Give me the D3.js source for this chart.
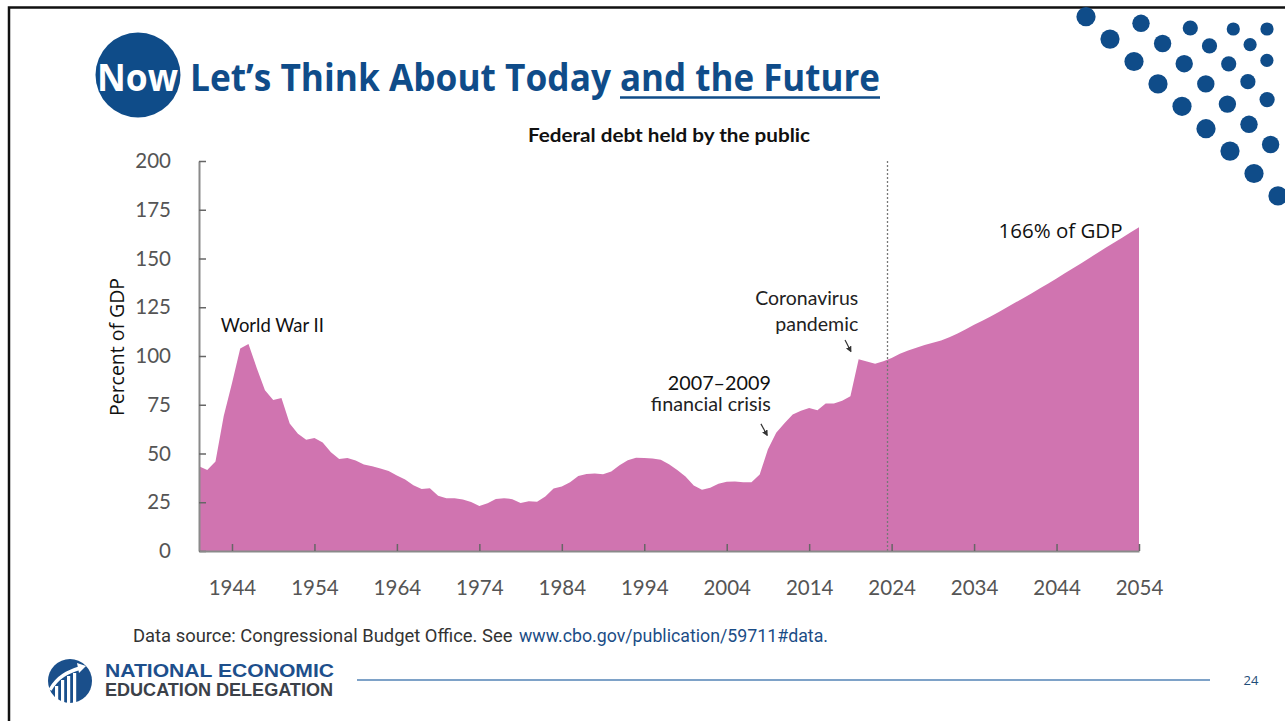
<!DOCTYPE html>
<html>
<head>
<meta charset="utf-8">
<script src="https://cdn.jsdelivr.net/npm/d3@7/dist/d3.min.js"></script>
<style>
  html, body { margin: 0; padding: 0; background: #fff; }
  svg { display: block; }
</style>
</head>
<body>
<svg id="slide" width="1285" height="721"></svg>
<script>
// Federal debt held by the public, percent of GDP (fiscal years)
const histYears = d3.range(1940, 2024);
const histDebt = [
  43.5, 41.5, 45.9, 69.2, 86.0, 103.9, 106.1, 93.9, 82.4, 77.4,   // 1940-1949
  78.5, 65.4, 60.1, 57.1, 57.9, 55.7, 50.6, 47.2, 47.7, 46.4,     // 1950-1959
  44.3, 43.5, 42.3, 41.0, 38.7, 36.7, 33.7, 31.8, 32.2, 28.3,     // 1960-1969
  27.0, 27.1, 26.4, 25.1, 23.1, 24.5, 26.7, 27.1, 26.6, 24.6,     // 1970-1979
  25.5, 25.2, 27.9, 32.1, 33.1, 35.3, 38.4, 39.5, 39.8, 39.3,     // 1980-1989
  40.8, 44.0, 46.6, 47.8, 47.7, 47.5, 46.8, 44.5, 41.6, 38.2,     // 1990-1999
  33.6, 31.4, 32.5, 34.5, 35.5, 35.6, 35.3, 35.2, 39.2, 52.2,     // 2000-2009
  60.6, 65.5, 70.0, 71.9, 73.3, 72.2, 75.6, 75.7, 77.1, 79.4,     // 2010-2019
  98.3, 97.2, 96.0, 97.3                                          // 2020-2023
];
const projYears = d3.range(2024, 2055);
const projDebt = [
  99.0, 101.2, 102.8, 104.2, 105.6, 106.8, 108.0, 109.6, 111.5, 113.7, // 2024-2033
  116.0, 118.1, 120.3, 122.6, 125.0, 127.4, 129.8, 132.2, 134.7, 137.2, // 2034-2043
  139.8, 142.4, 145.0, 147.6, 150.3, 153.0, 155.6, 158.2, 160.8, 163.4, // 2044-2053
  166.0                                                                  // 2054
];
const yTicks = [0, 25, 50, 75, 100, 125, 150, 175, 200];
const xTicks = [1944, 1954, 1964, 1974, 1984, 1994, 2004, 2014, 2024, 2034, 2044, 2054];
const projectionStart = 2023.5;

const series = histYears.map((yr, i) => ({ year: yr, value: histDebt[i] }))
  .concat(projYears.map((yr, i) => ({ year: yr, value: projDebt[i] })));

const BLUE = "#0f4c89";
const PINK = "#d074b0";
const svg = d3.select("#slide");

function label(sel, x, y, str, o) {
  const t = sel.append("text")
    .attr("x", x).attr("y", y)
    .attr("font-family", o.family || "Lato, 'Open Sans', sans-serif")
    .attr("font-size", o.size || 18)
    .attr("font-weight", o.weight || 400)
    .attr("fill", o.fill || "#111")
    .attr("text-anchor", o.anchor || "start")
    .text(str);
  if (o.len) t.attr("textLength", o.len).attr("lengthAdjust", "spacingAndGlyphs");
  return t;
}

// ---- slide frame ----
svg.append("path").attr("d", "M9,721 V7.5 H1285")
  .attr("fill", "none").attr("stroke", "#111").attr("stroke-width", 2.5);

// ---- decorative dot pattern, top right ----
const dotDiagonals = [
  { x0: 1086, y0: 16.7, dx: 24.0, dy: 22.4, n: 9, r: 9.6 },
  { x0: 1141, y0: 23.3, dx: 21.6, dy: 20.2, n: 7, r: 8.7 },
  { x0: 1190.3, y0: 28, dx: 19.2, dy: 17.9, n: 5, r: 7.6 },
  { x0: 1233.3, y0: 29, dx: 16.8, dy: 15.7, n: 3, r: 6.6 },
  { x0: 1267, y0: 29, dx: 0, dy: 0, n: 1, r: 6.6 }
];
const dots = [];
dotDiagonals.forEach(d => d3.range(d.n).forEach(i =>
  dots.push({ cx: d.x0 + i * d.dx, cy: d.y0 + i * d.dy, r: d.r })));
svg.append("g").selectAll("circle").data(dots).join("circle")
  .attr("cx", d => d.cx).attr("cy", d => d.cy).attr("r", d => d.r)
  .attr("fill", BLUE);

// ---- slide heading ----
svg.append("circle").attr("cx", 138).attr("cy", 75).attr("r", 42.5).attr("fill", BLUE);
label(svg, 97, 91, "Now", { size: 38, weight: 700, fill: "#fff", family: "'Open Sans', sans-serif", len: 81 });
label(svg, 190, 91, "Let\u2019s Think About Today", { size: 38, weight: 700, fill: BLUE, family: "'Open Sans', sans-serif", len: 421 });
label(svg, 620, 91, "and the Future", { size: 38, weight: 700, fill: BLUE, family: "'Open Sans', sans-serif", len: 260 });
svg.append("line").attr("x1", 620).attr("x2", 880).attr("y1", 97.5).attr("y2", 97.5)
  .attr("stroke", BLUE).attr("stroke-width", 2.5);

// ---- chart ----
const x = d3.scaleLinear().domain([1940, 2054]).range([199, 1139]);
const y = d3.scaleLinear().domain([0, 200]).range([551, 161]);

label(svg, 669, 142, "Federal debt held by the public", { size: 18, weight: 700, anchor: "middle", fill: "#111", len: 282 });

const area = d3.area()
  .x(d => x(d.year))
  .y0(y(0))
  .y1(d => y(d.value));
svg.append("path").datum(series).attr("d", area).attr("fill", PINK);

// projection divider
svg.append("line")
  .attr("x1", x(projectionStart)).attr("x2", x(projectionStart))
  .attr("y1", y(200)).attr("y2", y(0))
  .attr("stroke", "#777").attr("stroke-width", 1.3).attr("stroke-dasharray", "2,2");

// axes
const yAxis = svg.append("g").attr("transform", `translate(${x(1940)},0)`)
  .call(d3.axisLeft(y).tickValues(yTicks).tickSizeInner(-7).tickSizeOuter(0).tickPadding(28));
const xAxis = svg.append("g").attr("transform", `translate(0,${y(0)})`)
  .call(d3.axisBottom(x).tickValues(xTicks).tickFormat(d3.format("d")).tickSizeInner(-7).tickSizeOuter(0).tickPadding(29));
[yAxis, xAxis].forEach(g => {
  g.select(".domain").attr("stroke", "#8a8a8a").attr("stroke-width", 2);
  g.selectAll(".tick line").attr("stroke", "#666").attr("stroke-width", 1.5);
  g.selectAll(".tick text").attr("font-family", "Lato, 'Open Sans', sans-serif")
    .attr("font-size", 20.5).attr("fill", "#555");
});

label(svg, 0, 0, "Percent of GDP", { size: 20, fill: "#111", anchor: "middle", family: "'Open Sans', sans-serif", len: 138 })
  .attr("transform", "translate(124,347) rotate(-90)");

// annotations
const ann = svg.append("g");
label(ann, x(1942.65), y(112.3), "World War II", { size: 19, fill: "#111", len: 103 });
label(ann, x(2019.95), y(126.0), "Coronavirus", { size: 19, fill: "#222", anchor: "end", len: 103 });
label(ann, x(2019.95), y(112.6), "pandemic", { size: 19, fill: "#222", anchor: "end", len: 83 });
label(ann, x(2009.35), y(82.4), "2007\u20132009", { size: 19, fill: "#111", anchor: "end", len: 103 });
label(ann, x(2009.35), y(71.6), "financial crisis", { size: 19, fill: "#222", anchor: "end", len: 120 });
label(ann, x(2052.0), y(160.5), "166% of GDP", { size: 20, fill: "#111", anchor: "end", family: "'Open Sans', sans-serif", len: 124 });

const arrows = [
  { from: [2018.35, 108.2], to: [2019.05, 102.4] },
  { from: [2008.15, 65.2], to: [2008.9, 59.4] }
];
svg.append("defs").append("marker")
  .attr("id", "tip").attr("viewBox", "0 0 10 10").attr("refX", 8).attr("refY", 5)
  .attr("markerWidth", 5).attr("markerHeight", 5).attr("orient", "auto")
  .append("path").attr("d", "M0,0 L10,5 L0,10 z").attr("fill", "#333");
ann.selectAll("line.arrow").data(arrows).join("line").attr("class", "arrow")
  .attr("x1", d => x(d.from[0])).attr("y1", d => y(d.from[1]))
  .attr("x2", d => x(d.to[0])).attr("y2", d => y(d.to[1]))
  .attr("stroke", "#333").attr("stroke-width", 1.2).attr("marker-end", "url(#tip)");

// ---- source line ----
const src = svg.append("text").attr("x", 133).attr("y", 642)
  .attr("font-family", "'Roboto', 'Open Sans', sans-serif").attr("font-size", 17.5);
src.append("tspan").attr("fill", "#333").text("Data source: Congressional Budget Office. See ")
  .attr("textLength", 384).attr("lengthAdjust", "spacingAndGlyphs");
src.append("tspan").attr("fill", "#1b4d86").attr("x", 519).text("www.cbo.gov/publication/59711#data.")
  .attr("textLength", 309).attr("lengthAdjust", "spacingAndGlyphs");

// ---- footer logo ----
const logo = svg.append("g");
logo.append("circle").attr("cx", 70).attr("cy", 681).attr("r", 22).attr("fill", "#1a4f8b");
[[55, 686], [61, 680], [67, 676], [73, 673]].forEach(([bx, by]) => {
  logo.append("rect").attr("x", bx).attr("y", by).attr("width", 3.2).attr("height", 703 - by)
    .attr("fill", "#fff");
});
logo.append("path").attr("d", "M50,690 C58,676 68,672 80,668")
  .attr("fill", "none").attr("stroke", "#fff").attr("stroke-width", 3.5);
logo.append("path").attr("d", "M77,663 L86,666 L79,673 z").attr("fill", "#fff");
label(logo, 105, 677, "NATIONAL ECONOMIC", { size: 18, weight: 700, fill: "#1d4f8c", family: "'Liberation Sans', Arial, sans-serif", len: 229 });
label(logo, 105, 695.5, "EDUCATION DELEGATION", { size: 18, weight: 700, fill: "#3b4149", family: "'Liberation Sans', Arial, sans-serif", len: 228 });

svg.append("line").attr("x1", 357).attr("x2", 1210).attr("y1", 680).attr("y2", 680)
  .attr("stroke", "#7ea2c8").attr("stroke-width", 2);
label(svg, 1251, 684.5, "24", { size: 13, fill: "#1f4e79", anchor: "middle", family: "'Open Sans', sans-serif" });
</script>
</body>
</html>
